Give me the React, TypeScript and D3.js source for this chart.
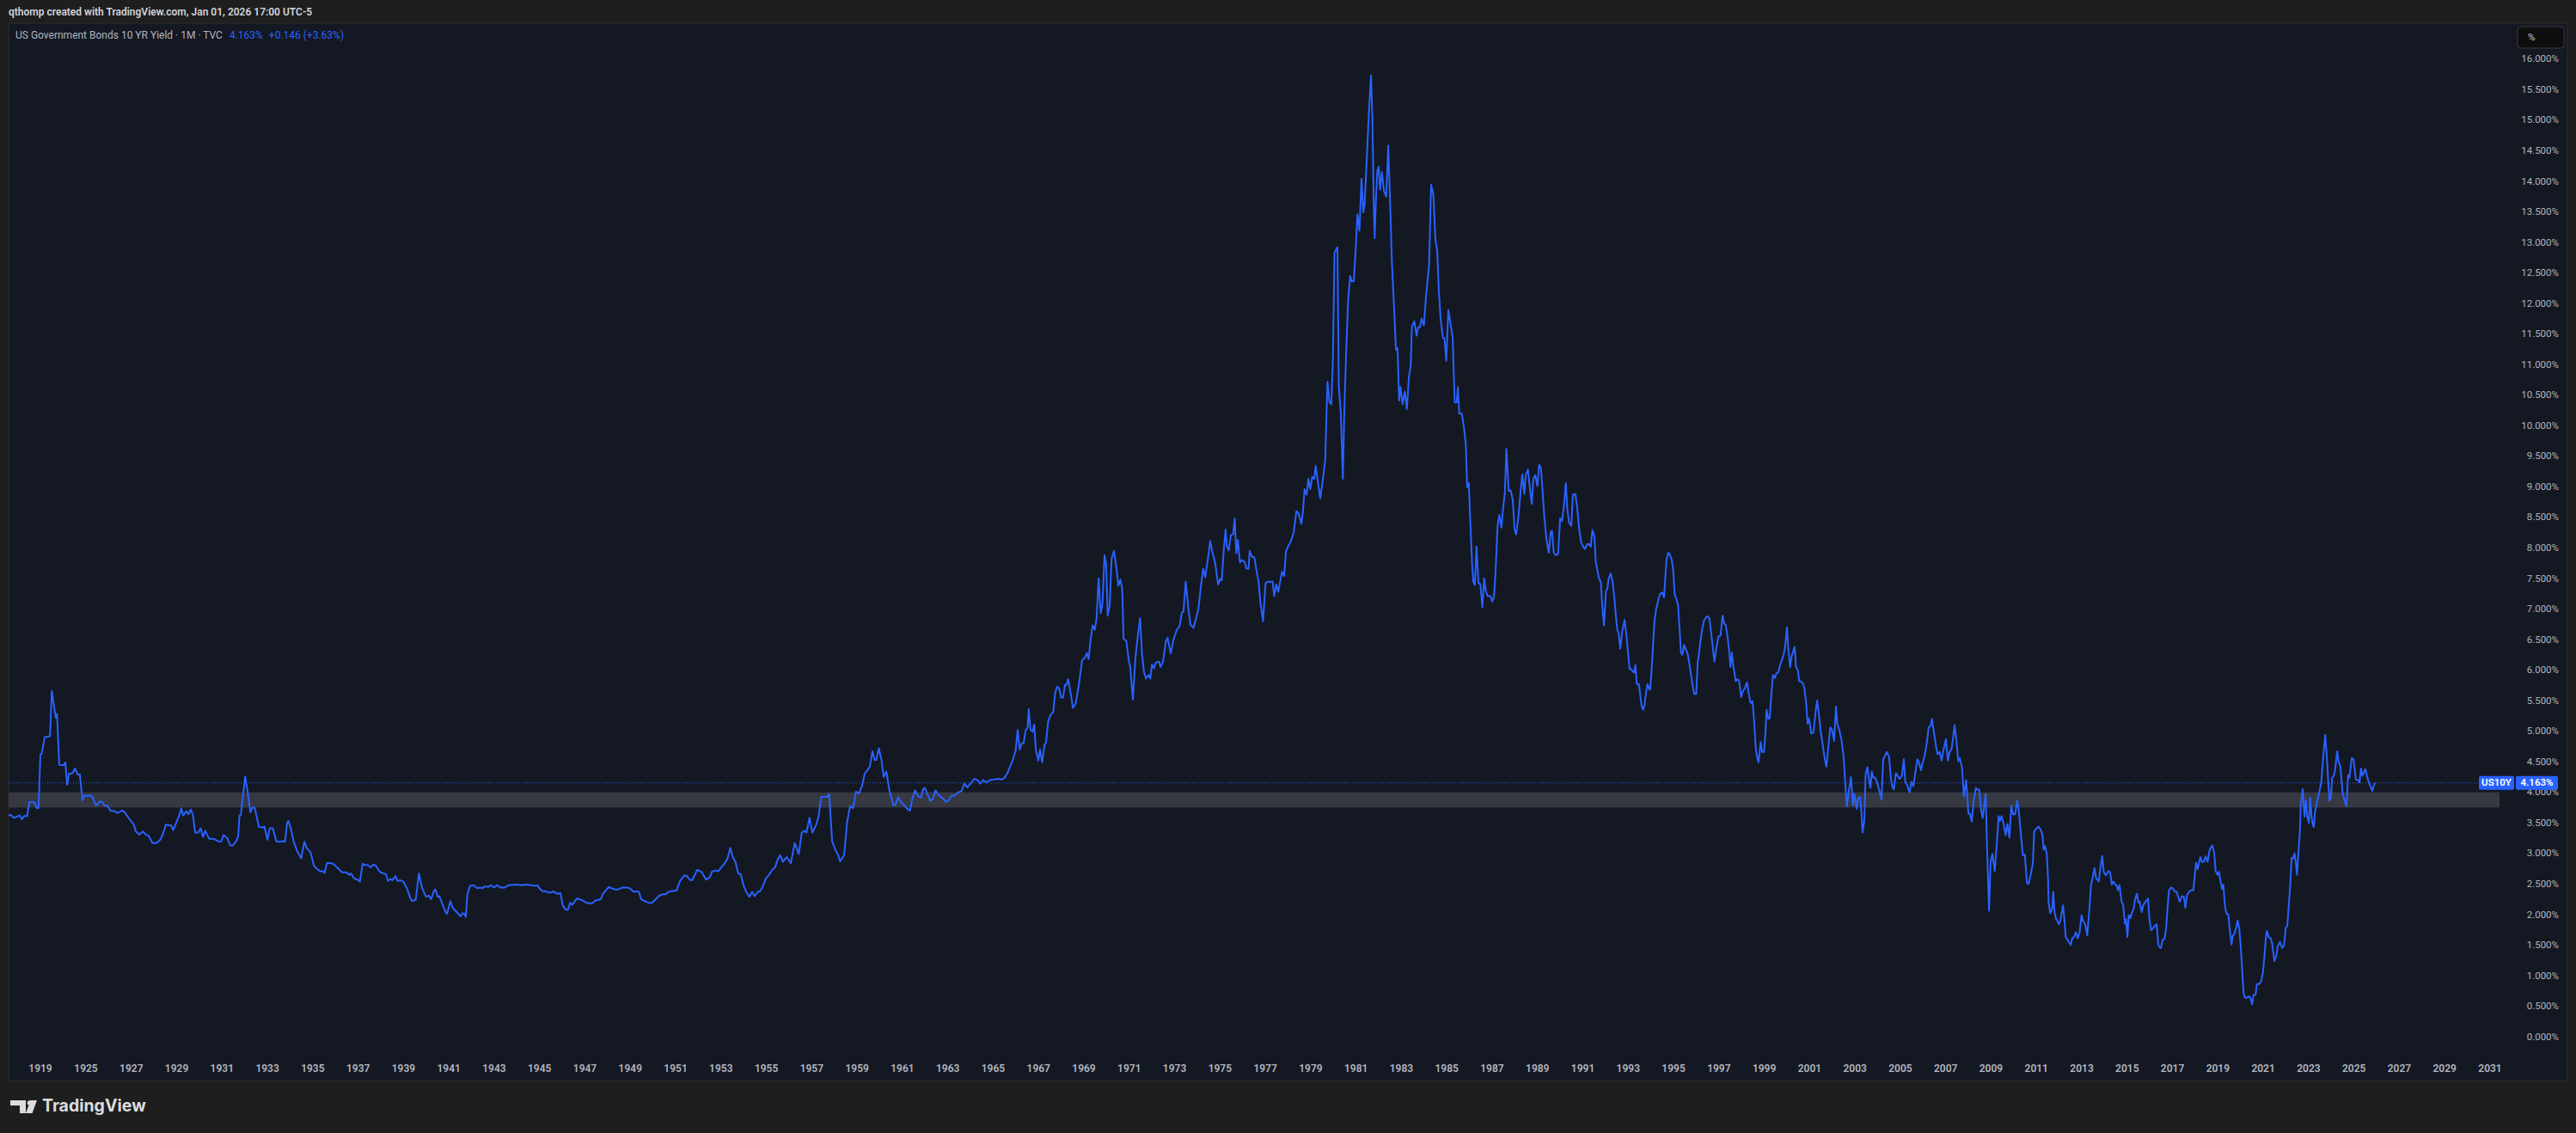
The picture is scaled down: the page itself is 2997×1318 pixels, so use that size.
import * as d3 from "d3";

// US 10Y yield, monthly-ish readings [decimal year, yield %]
const yields1914to1925: [number, number][] = [
  [1914.83, 3.63], [1915.12, 3.64], [1915.53, 3.59], [1916.28, 3.63], [1916.57, 3.57], [1916.86, 3.62],
  [1917.26, 3.62], [1917.55, 3.85], [1918.19, 3.85], [1918.53, 3.75], [1918.76, 3.75], [1919.0, 4.63],
  [1919.17, 4.64], [1919.57, 4.91], [1919.92, 4.92], [1920.27, 4.93], [1920.5, 5.67], [1921.02, 5.23],
  [1921.19, 5.29], [1921.48, 4.46], [1922.06, 4.45], [1922.29, 4.5], [1922.52, 4.13], [1922.75, 4.31],
  [1923.21, 4.32], [1923.56, 4.4], [1923.91, 4.3], [1924.2, 4.3], [1924.54, 3.88], [1924.83, 3.96],
];

const yields1925to1950: [number, number][] = [
  [1925.08, 3.95], [1925.19, 3.96], [1925.31, 3.92], [1925.44, 3.79], [1925.62, 3.86], [1925.72, 3.85],
  [1925.81, 3.79], [1925.95, 3.79], [1926.08, 3.71], [1926.28, 3.7], [1926.39, 3.67], [1926.59, 3.71],
  [1926.72, 3.68], [1926.88, 3.59], [1927.11, 3.48], [1927.2, 3.37], [1927.36, 3.32], [1927.51, 3.37],
  [1927.63, 3.32], [1927.75, 3.3], [1927.94, 3.18], [1928.13, 3.18], [1928.27, 3.23], [1928.4, 3.33],
  [1928.52, 3.48], [1928.63, 3.47], [1928.75, 3.47], [1928.85, 3.39], [1928.98, 3.51], [1929.14, 3.66],
  [1929.2, 3.75], [1929.29, 3.63], [1929.43, 3.7], [1929.52, 3.65], [1929.62, 3.73], [1929.72, 3.63],
  [1929.81, 3.35], [1929.95, 3.35], [1930.06, 3.42], [1930.16, 3.28], [1930.26, 3.38], [1930.43, 3.25],
  [1930.61, 3.25], [1930.72, 3.23], [1930.88, 3.2], [1930.97, 3.21], [1931.07, 3.31], [1931.23, 3.26],
  [1931.36, 3.14], [1931.48, 3.14], [1931.61, 3.2], [1931.71, 3.28], [1931.77, 3.63], [1931.83, 3.64],
  [1932.02, 4.27], [1932.14, 3.99], [1932.25, 3.68], [1932.33, 3.76], [1932.44, 3.76], [1932.62, 3.45],
  [1932.77, 3.43], [1932.87, 3.45], [1933.0, 3.23], [1933.1, 3.42], [1933.24, 3.42], [1933.39, 3.21],
  [1933.53, 3.2], [1933.68, 3.21], [1933.78, 3.2], [1933.87, 3.51], [1933.93, 3.54], [1934.03, 3.42],
  [1934.16, 3.2], [1934.32, 3.04], [1934.49, 2.93], [1934.63, 3.2], [1934.73, 3.1], [1934.9, 3.03],
  [1935.05, 2.81], [1935.17, 2.76], [1935.32, 2.72], [1935.48, 2.71], [1935.52, 2.69], [1935.63, 2.85],
  [1935.75, 2.85], [1935.9, 2.84], [1936.1, 2.77], [1936.29, 2.7], [1936.48, 2.7], [1936.6, 2.66],
  [1936.68, 2.68], [1936.83, 2.6], [1936.97, 2.58], [1937.08, 2.55], [1937.2, 2.84], [1937.3, 2.82],
  [1937.41, 2.82], [1937.55, 2.78], [1937.68, 2.83], [1937.8, 2.8], [1937.95, 2.71], [1938.07, 2.69],
  [1938.22, 2.67], [1938.32, 2.56], [1938.42, 2.59], [1938.51, 2.57], [1938.65, 2.64], [1938.73, 2.56],
  [1938.84, 2.57], [1938.99, 2.55], [1939.15, 2.44], [1939.29, 2.29], [1939.38, 2.23], [1939.54, 2.25],
  [1939.68, 2.68], [1939.81, 2.46], [1939.93, 2.35], [1940.0, 2.3], [1940.12, 2.32], [1940.22, 2.26],
  [1940.35, 2.4], [1940.41, 2.42], [1940.51, 2.3], [1940.58, 2.31], [1940.7, 2.2], [1940.84, 2.06],
  [1940.92, 2.02], [1941.07, 2.23], [1941.17, 2.12], [1941.32, 2.06], [1941.52, 1.98], [1941.61, 2.03],
  [1941.67, 2.03], [1941.75, 1.97], [1941.82, 2.35], [1941.94, 2.48], [1942.09, 2.49], [1942.25, 2.44],
  [1942.38, 2.45], [1942.48, 2.44], [1942.59, 2.47], [1942.73, 2.46], [1942.87, 2.49], [1943.0, 2.45],
  [1943.12, 2.49], [1943.29, 2.45], [1943.45, 2.45], [1943.64, 2.49], [1943.93, 2.5], [1944.22, 2.49],
  [1944.41, 2.5], [1944.61, 2.49], [1944.8, 2.48], [1944.9, 2.49], [1945.03, 2.42], [1945.15, 2.39],
  [1945.28, 2.39], [1945.38, 2.37], [1945.53, 2.37], [1945.61, 2.39], [1945.77, 2.35], [1945.92, 2.36],
  [1946.02, 2.16], [1946.15, 2.09], [1946.25, 2.09], [1946.35, 2.2], [1946.44, 2.17], [1946.64, 2.27],
  [1946.77, 2.26], [1946.93, 2.23], [1947.08, 2.2], [1947.22, 2.19], [1947.35, 2.2], [1947.47, 2.24],
  [1947.6, 2.25], [1947.7, 2.26], [1947.8, 2.35], [1947.89, 2.39], [1948.05, 2.46], [1948.18, 2.44],
  [1948.32, 2.42], [1948.47, 2.42], [1948.63, 2.45], [1948.76, 2.45], [1948.9, 2.45], [1949.01, 2.43],
  [1949.15, 2.38], [1949.28, 2.39], [1949.38, 2.38], [1949.48, 2.26], [1949.63, 2.23], [1949.83, 2.2],
  [1949.96, 2.2], [1950.12, 2.26], [1950.25, 2.31], [1950.41, 2.34], [1950.56, 2.34], [1950.64, 2.37],
];

const yields1950to1978: [number, number][] = [
  [1950.77, 2.39], [1951.03, 2.4], [1951.2, 2.56], [1951.38, 2.65], [1951.5, 2.64], [1951.61, 2.58],
  [1951.73, 2.57], [1951.95, 2.74], [1952.16, 2.7], [1952.34, 2.58], [1952.51, 2.62], [1952.6, 2.71],
  [1952.77, 2.73], [1952.89, 2.72], [1953.03, 2.79], [1953.17, 2.85], [1953.29, 2.93], [1953.41, 3.1],
  [1953.52, 2.95], [1953.64, 2.87], [1953.76, 2.68], [1953.87, 2.67], [1953.99, 2.49], [1954.11, 2.38],
  [1954.25, 2.3], [1954.37, 2.38], [1954.48, 2.31], [1954.6, 2.37], [1954.74, 2.4], [1954.88, 2.5],
  [1954.98, 2.6], [1955.12, 2.66], [1955.26, 2.74], [1955.38, 2.78], [1955.5, 2.91], [1955.61, 2.98],
  [1955.73, 2.87], [1955.9, 2.95], [1956.08, 2.85], [1956.25, 3.18], [1956.43, 3.0], [1956.56, 3.35],
  [1956.69, 3.38], [1956.77, 3.35], [1956.9, 3.59], [1957.03, 3.35], [1957.21, 3.49], [1957.3, 3.61],
  [1957.42, 3.93], [1957.56, 3.94], [1957.68, 3.93], [1957.77, 3.98], [1957.9, 3.21], [1958.04, 3.07],
  [1958.17, 2.98], [1958.25, 2.88], [1958.43, 2.98], [1958.56, 3.52], [1958.69, 3.78], [1958.83, 3.75],
  [1958.95, 4.02], [1959.09, 3.99], [1959.23, 4.13], [1959.33, 4.31], [1959.47, 4.38], [1959.56, 4.43],
  [1959.68, 4.68], [1959.77, 4.54], [1959.85, 4.54], [1959.96, 4.73], [1960.08, 4.53], [1960.17, 4.26],
  [1960.29, 4.35], [1960.43, 4.03], [1960.6, 3.8], [1960.69, 3.8], [1960.81, 3.93], [1960.95, 3.84],
  [1961.09, 3.79], [1961.21, 3.74], [1961.33, 3.71], [1961.42, 3.88], [1961.56, 4.04], [1961.7, 3.94],
  [1961.82, 3.92], [1961.91, 4.06], [1961.99, 4.08], [1962.11, 3.97], [1962.22, 3.87], [1962.34, 3.9],
  [1962.46, 4.04], [1962.6, 3.96], [1962.78, 3.91], [1962.92, 3.85], [1963.04, 3.88], [1963.16, 3.95],
  [1963.3, 3.96], [1963.47, 4.01], [1963.61, 4.03], [1963.73, 4.15], [1963.86, 4.09], [1964.0, 4.15],
  [1964.17, 4.23], [1964.31, 4.21], [1964.43, 4.15], [1964.55, 4.21], [1964.69, 4.17], [1964.86, 4.21],
  [1965.04, 4.22], [1965.21, 4.23], [1965.39, 4.22], [1965.53, 4.26], [1965.65, 4.34], [1965.77, 4.45],
  [1965.87, 4.54], [1965.99, 4.69], [1966.08, 5.03], [1966.17, 4.71], [1966.26, 4.81], [1966.34, 4.81],
  [1966.43, 5.02], [1966.52, 5.07], [1966.57, 5.37], [1966.64, 5.04], [1966.74, 5.0], [1966.81, 5.12],
  [1966.88, 4.71], [1966.99, 4.53], [1967.07, 4.71], [1967.16, 4.5], [1967.27, 4.79], [1967.33, 4.82],
  [1967.42, 5.16], [1967.47, 5.22], [1967.56, 5.29], [1967.65, 5.32], [1967.73, 5.63], [1967.82, 5.74],
  [1967.91, 5.71], [1968.0, 5.56], [1968.08, 5.56], [1968.17, 5.77], [1968.24, 5.77], [1968.31, 5.86],
  [1968.43, 5.6], [1968.52, 5.39], [1968.64, 5.46], [1968.78, 5.77], [1968.92, 6.17], [1969.04, 6.21],
  [1969.13, 6.29], [1969.21, 6.19], [1969.3, 6.52], [1969.39, 6.74], [1969.48, 6.67], [1969.56, 6.85],
  [1969.65, 7.51], [1969.74, 6.94], [1969.82, 7.1], [1969.91, 7.89], [1969.98, 7.74], [1970.05, 6.9],
  [1970.14, 7.07], [1970.22, 7.83], [1970.33, 7.96], [1970.43, 7.69], [1970.52, 7.39], [1970.61, 7.49],
  [1970.69, 7.34], [1970.75, 6.52], [1970.87, 6.49], [1970.99, 6.14], [1971.04, 6.07], [1971.16, 5.53],
  [1971.27, 6.2], [1971.39, 6.61], [1971.48, 6.86], [1971.56, 6.28], [1971.65, 5.98], [1971.74, 5.87],
  [1971.86, 5.93], [1971.93, 5.87], [1972.0, 6.1], [1972.09, 6.04], [1972.17, 6.13], [1972.31, 6.15],
  [1972.38, 6.06], [1972.49, 6.15], [1972.61, 6.47], [1972.69, 6.54], [1972.83, 6.28], [1972.96, 6.52],
  [1973.09, 6.66], [1973.22, 6.73], [1973.32, 6.95], [1973.39, 6.96], [1973.49, 7.46], [1973.6, 7.03],
  [1973.7, 6.75], [1973.83, 6.7], [1973.97, 6.89], [1974.05, 7.01], [1974.17, 7.41], [1974.26, 7.67],
  [1974.35, 7.53], [1974.47, 7.83], [1974.57, 8.12], [1974.69, 7.9], [1974.78, 7.78], [1974.92, 7.41],
  [1975.01, 7.5], [1975.08, 7.48], [1975.17, 7.99], [1975.25, 8.31], [1975.3, 8.04], [1975.39, 7.97],
  [1975.48, 8.22], [1975.58, 8.23], [1975.65, 8.49], [1975.72, 7.92], [1975.79, 8.14], [1975.88, 7.77],
  [1975.97, 7.81], [1976.09, 7.78], [1976.17, 7.67], [1976.26, 7.67], [1976.31, 7.96], [1976.4, 7.87],
  [1976.52, 7.85], [1976.61, 7.64], [1976.7, 7.46], [1976.78, 7.13], [1976.9, 6.81], [1977.01, 7.43],
  [1977.1, 7.46], [1977.22, 7.45], [1977.32, 7.46], [1977.39, 7.22], [1977.48, 7.41], [1977.57, 7.29],
  [1977.65, 7.45], [1977.74, 7.62], [1977.83, 7.55], [1977.91, 7.95], [1978.0, 8.03],
];

const yields1978to1991: [number, number][] = [
  [1978.12, 8.11], [1978.25, 8.26], [1978.37, 8.61], [1978.46, 8.58], [1978.59, 8.4], [1978.66, 8.61],
  [1978.73, 8.97], [1978.82, 8.88], [1978.9, 9.14], [1978.98, 8.97], [1979.07, 9.17], [1979.16, 9.14],
  [1979.22, 9.35], [1979.32, 9.08], [1979.42, 8.82], [1979.51, 9.05], [1979.64, 9.44], [1979.74, 10.73],
  [1979.83, 10.39], [1979.91, 10.36], [1979.98, 11.1], [1980.05, 12.84], [1980.18, 12.93], [1980.24, 10.65],
  [1980.33, 10.21], [1980.42, 9.14], [1980.48, 10.21], [1980.56, 11.16], [1980.65, 12.05], [1980.74, 12.46],
  [1980.81, 12.37], [1980.9, 12.37], [1980.99, 12.93], [1981.06, 13.47], [1981.15, 13.2], [1981.24, 14.05],
  [1981.32, 13.5], [1981.38, 13.64], [1981.47, 14.35], [1981.56, 15.09], [1981.66, 15.74], [1981.72, 15.06],
  [1981.78, 13.64], [1981.82, 13.08], [1981.87, 13.64], [1981.94, 14.18], [1982.0, 14.25], [1982.06, 13.87],
  [1982.14, 14.16], [1982.23, 13.85], [1982.33, 13.76], [1982.42, 14.59], [1982.5, 13.7], [1982.58, 12.7],
  [1982.67, 11.99], [1982.76, 11.25], [1982.83, 11.28], [1982.9, 10.42], [1982.96, 10.64], [1983.05, 10.36],
  [1983.15, 10.57], [1983.24, 10.28], [1983.33, 10.8], [1983.41, 10.98], [1983.46, 11.63], [1983.57, 11.72],
  [1983.67, 11.48], [1983.74, 11.62], [1983.82, 11.62], [1983.89, 11.76], [1983.99, 11.65], [1984.08, 12.1],
  [1984.22, 12.64], [1984.31, 13.95], [1984.41, 13.79], [1984.5, 13.05], [1984.58, 12.87], [1984.65, 12.22],
  [1984.73, 11.75], [1984.83, 11.45], [1984.9, 11.44], [1984.98, 11.07], [1985.07, 11.9], [1985.16, 11.69],
  [1985.26, 11.45], [1985.35, 10.39], [1985.44, 10.39], [1985.49, 10.64], [1985.55, 10.21], [1985.66, 10.21],
  [1985.76, 9.97], [1985.84, 9.71], [1985.9, 9.0], [1985.97, 9.07], [1986.04, 8.43], [1986.12, 7.72],
  [1986.17, 7.46], [1986.24, 7.4], [1986.31, 8.03], [1986.4, 7.43], [1986.48, 7.42], [1986.57, 7.04],
  [1986.65, 7.51], [1986.72, 7.31], [1986.8, 7.22], [1986.93, 7.22], [1987.0, 7.13], [1987.08, 7.2],
  [1987.15, 7.6], [1987.24, 8.37], [1987.32, 8.55], [1987.41, 8.34], [1987.48, 8.64], [1987.56, 8.91],
  [1987.63, 9.63], [1987.73, 8.94], [1987.82, 8.95], [1987.91, 8.79], [1987.99, 8.31], [1988.06, 8.23],
  [1988.16, 8.52], [1988.25, 8.91], [1988.33, 9.21], [1988.42, 8.89], [1988.48, 9.2], [1988.58, 9.29],
  [1988.67, 8.97], [1988.75, 8.73], [1988.82, 9.14], [1988.9, 9.2], [1989.0, 9.02], [1989.07, 9.37],
  [1989.15, 9.32], [1989.21, 9.02], [1989.3, 8.52], [1989.4, 8.14], [1989.5, 7.93], [1989.58, 8.26],
  [1989.64, 8.29], [1989.72, 7.93], [1989.81, 7.89], [1989.91, 7.91], [1990.0, 8.49], [1990.08, 8.45],
  [1990.16, 8.67], [1990.25, 9.07], [1990.31, 8.66], [1990.39, 8.43], [1990.49, 8.37], [1990.56, 8.88],
  [1990.67, 8.89], [1990.75, 8.67], [1990.84, 8.31], [1990.92, 8.11], [1991.01, 8.03], [1991.09, 7.99],
  [1991.2, 8.07], [1991.28, 8.07], [1991.35, 8.03], [1991.42, 8.3], [1991.51, 8.2], [1991.57, 7.78],
];

const yields1991to2011: [number, number][] = [
  [1991.7, 7.53], [1991.8, 7.44], [1991.85, 7.09], [1991.93, 6.74], [1992.02, 7.31], [1992.08, 7.33],
  [1992.14, 7.51], [1992.23, 7.59], [1992.31, 7.46], [1992.39, 7.19], [1992.46, 6.89], [1992.52, 6.66],
  [1992.58, 6.62], [1992.65, 6.36], [1992.74, 6.65], [1992.84, 6.83], [1992.93, 6.55], [1992.99, 6.3],
  [1993.06, 6.03], [1993.15, 6.02], [1993.22, 5.98], [1993.27, 5.97], [1993.32, 6.09], [1993.38, 5.78],
  [1993.47, 5.78], [1993.53, 5.61], [1993.59, 5.42], [1993.66, 5.36], [1993.72, 5.44], [1993.78, 5.62],
  [1993.85, 5.78], [1993.94, 5.69], [1993.97, 5.69], [1994.04, 6.06], [1994.1, 6.45], [1994.16, 6.81],
  [1994.23, 7.0], [1994.29, 7.09], [1994.35, 7.2], [1994.42, 7.26], [1994.5, 7.28], [1994.58, 7.2],
  [1994.63, 7.49], [1994.69, 7.82], [1994.77, 7.93], [1994.83, 7.91], [1994.92, 7.81], [1994.98, 7.66],
  [1995.05, 7.24], [1995.11, 7.19], [1995.2, 7.07], [1995.26, 6.7], [1995.33, 6.29], [1995.39, 6.26],
  [1995.46, 6.42], [1995.55, 6.34], [1995.62, 6.28], [1995.69, 6.13], [1995.77, 5.93], [1995.84, 5.76],
  [1995.91, 5.62], [1996.0, 5.62], [1996.06, 6.12], [1996.12, 6.28], [1996.18, 6.46], [1996.25, 6.65],
  [1996.34, 6.82], [1996.4, 6.85], [1996.48, 6.89], [1996.58, 6.86], [1996.65, 6.64], [1996.73, 6.38],
  [1996.8, 6.15], [1996.88, 6.35], [1996.98, 6.56], [1997.07, 6.57], [1997.16, 6.9], [1997.23, 6.77],
  [1997.3, 6.75], [1997.38, 6.55], [1997.45, 6.33], [1997.51, 6.06], [1997.57, 6.3], [1997.64, 6.07],
  [1997.74, 5.83], [1997.83, 5.86], [1997.89, 5.83], [1997.98, 5.57], [1998.04, 5.65], [1998.14, 5.71],
  [1998.24, 5.81], [1998.32, 5.61], [1998.4, 5.47], [1998.48, 5.5], [1998.55, 5.19], [1998.62, 4.75],
  [1998.69, 4.57], [1998.75, 4.5], [1998.84, 4.83], [1998.9, 4.67], [1998.99, 4.67], [1999.05, 4.97],
  [1999.1, 5.36], [1999.18, 5.21], [1999.24, 5.22], [1999.3, 5.56], [1999.38, 5.93], [1999.47, 5.88],
  [1999.54, 5.96], [1999.63, 5.98], [1999.7, 6.1], [1999.76, 6.15], [1999.85, 6.26], [1999.91, 6.36],
  [2000.0, 6.71], [2000.06, 6.35], [2000.14, 6.06], [2000.2, 6.23], [2000.26, 6.3], [2000.34, 6.39],
  [2000.4, 6.06], [2000.48, 6.01], [2000.54, 5.83], [2000.63, 5.82], [2000.71, 5.79], [2000.77, 5.71],
  [2000.85, 5.46], [2000.91, 5.13], [2000.96, 5.22], [2001.01, 5.14], [2001.07, 4.97], [2001.17, 4.99],
  [2001.26, 5.32], [2001.33, 5.51], [2001.4, 5.32], [2001.48, 5.02], [2001.55, 4.85], [2001.62, 4.67],
  [2001.68, 4.53], [2001.74, 4.43], [2001.83, 4.77], [2001.91, 5.07], [2001.99, 5.03], [2002.08, 4.85],
  [2002.16, 5.41], [2002.22, 5.13], [2002.31, 5.03], [2002.41, 4.85], [2002.5, 4.58], [2002.56, 4.21],
  [2002.64, 3.78], [2002.72, 4.01], [2002.82, 4.26], [2002.91, 3.8], [2002.97, 3.98], [2003.02, 3.88],
  [2003.07, 3.74], [2003.15, 3.93], [2003.23, 3.92], [2003.3, 3.59], [2003.33, 3.35], [2003.41, 3.54],
  [2003.47, 4.32], [2003.55, 4.42], [2003.61, 4.24], [2003.68, 4.08], [2003.74, 4.35], [2003.8, 4.25],
  [2003.89, 4.25], [2003.98, 4.16], [2004.08, 4.03], [2004.17, 3.89], [2004.24, 4.55], [2004.31, 4.59],
  [2004.4, 4.67], [2004.5, 4.59], [2004.59, 4.21], [2004.65, 4.09], [2004.71, 4.06], [2004.8, 4.32],
  [2004.88, 4.28], [2004.96, 4.23], [2005.07, 4.28], [2005.15, 4.55], [2005.22, 4.18], [2005.31, 4.12],
  [2005.41, 4.01], [2005.49, 4.18], [2005.57, 4.11], [2005.66, 4.33], [2005.75, 4.55], [2005.82, 4.5],
  [2005.91, 4.37], [2005.97, 4.48], [2006.06, 4.59], [2006.14, 4.75], [2006.2, 4.92], [2006.25, 5.08],
  [2006.33, 5.09], [2006.39, 5.21], [2006.48, 4.99], [2006.57, 4.77], [2006.64, 4.63], [2006.73, 4.67],
  [2006.82, 4.53], [2006.9, 4.7], [2007.01, 4.88], [2007.09, 4.53], [2007.17, 4.67], [2007.26, 4.72],
  [2007.33, 4.91], [2007.39, 5.11], [2007.47, 4.87], [2007.55, 4.52], [2007.62, 4.57], [2007.72, 4.41],
  [2007.8, 3.94], [2007.9, 4.21], [2008.0, 3.66], [2008.07, 3.66], [2008.15, 3.53], [2008.23, 3.87],
  [2008.33, 4.08], [2008.42, 4.05], [2008.48, 4.05], [2008.55, 3.75], [2008.63, 3.59], [2008.69, 3.78],
  [2008.76, 3.98], [2008.83, 3.0], [2008.91, 2.07], [2008.98, 2.88], [2009.06, 3.0], [2009.16, 2.72],
  [2009.24, 3.1], [2009.33, 3.62], [2009.39, 3.54], [2009.46, 3.62], [2009.54, 3.52], [2009.64, 3.31],
  [2009.72, 3.49], [2009.81, 3.27], [2009.89, 3.79], [2009.97, 3.65], [2010.06, 3.65], [2010.15, 3.87],
  [2010.21, 3.75], [2010.3, 3.38], [2010.4, 2.98], [2010.49, 2.99], [2010.58, 2.53], [2010.65, 2.51],
  [2010.74, 2.65], [2010.84, 2.84], [2010.9, 3.37], [2010.98, 3.41], [2011.09, 3.45], [2011.18, 3.4],
  [2011.26, 3.32], [2011.32, 3.07], [2011.38, 3.13],
];

const yields2011to2025: [number, number][] = [
  [2011.46, 2.99], [2011.51, 2.6], [2011.54, 2.2], [2011.61, 2.03], [2011.69, 2.1],
  [2011.74, 2.38], [2011.8, 2.05], [2011.86, 1.94], [2011.92, 1.91], [2011.98, 1.85], [2012.04, 1.89],
  [2012.1, 2.01], [2012.17, 2.16], [2012.23, 1.94], [2012.29, 1.64], [2012.38, 1.59], [2012.51, 1.51],
  [2012.58, 1.62], [2012.67, 1.65], [2012.74, 1.72], [2012.82, 1.62], [2012.9, 1.71], [2012.99, 2.0],
  [2013.05, 1.91], [2013.15, 1.85], [2013.24, 1.67], [2013.33, 2.08], [2013.41, 2.5], [2013.49, 2.63],
  [2013.56, 2.77], [2013.63, 2.6], [2013.75, 2.55], [2013.81, 2.75], [2013.9, 2.97], [2013.97, 2.7],
  [2014.06, 2.65], [2014.16, 2.72], [2014.25, 2.7], [2014.32, 2.5], [2014.4, 2.55], [2014.47, 2.5],
  [2014.53, 2.49], [2014.59, 2.41], [2014.66, 2.49], [2014.76, 2.21], [2014.82, 2.18], [2014.9, 1.86],
  [2014.95, 1.93], [2015.01, 1.64], [2015.07, 2.0], [2015.14, 1.95], [2015.2, 2.03], [2015.29, 2.11],
  [2015.35, 2.26], [2015.43, 2.35], [2015.49, 2.21], [2015.55, 2.22], [2015.64, 2.05], [2015.71, 2.16],
  [2015.81, 2.22], [2015.92, 2.27], [2015.98, 1.94], [2016.06, 1.75], [2016.15, 1.79], [2016.21, 1.82],
  [2016.3, 1.85], [2016.37, 1.52], [2016.44, 1.47], [2016.49, 1.46], [2016.56, 1.59], [2016.65, 1.61],
  [2016.72, 1.79], [2016.78, 2.11], [2016.84, 2.4], [2016.93, 2.45], [2017.01, 2.44], [2017.09, 2.39],
  [2017.18, 2.38], [2017.25, 2.3], [2017.32, 2.22], [2017.41, 2.31], [2017.5, 2.3], [2017.57, 2.12],
  [2017.64, 2.33], [2017.73, 2.38], [2017.83, 2.41], [2017.92, 2.41], [2017.98, 2.65], [2018.04, 2.86],
  [2018.11, 2.75], [2018.17, 2.87], [2018.23, 2.95], [2018.29, 2.87], [2018.38, 2.87], [2018.46, 2.96],
  [2018.55, 2.87], [2018.61, 3.02], [2018.67, 3.1], [2018.76, 3.14], [2018.84, 3.01], [2018.9, 2.72],
  [2018.99, 2.66], [2019.05, 2.71], [2019.12, 2.55], [2019.18, 2.43], [2019.24, 2.5], [2019.31, 2.16],
  [2019.37, 2.03], [2019.46, 2.01], [2019.53, 1.74], [2019.6, 1.52], [2019.66, 1.66], [2019.72, 1.69],
  [2019.81, 1.8], [2019.87, 1.91], [2019.94, 1.79], [2020.0, 1.52], [2020.06, 1.17], [2020.13, 0.73],
  [2020.19, 0.65], [2020.28, 0.65], [2020.38, 0.67], [2020.45, 0.63], [2020.51, 0.54], [2020.57, 0.69],
  [2020.66, 0.7], [2020.72, 0.87], [2020.82, 0.87], [2020.91, 0.92], [2020.99, 1.07], [2021.05, 1.32],
  [2021.11, 1.61], [2021.16, 1.74], [2021.24, 1.64], [2021.33, 1.62], [2021.39, 1.54], [2021.45, 1.37],
  [2021.49, 1.25], [2021.58, 1.34], [2021.64, 1.49], [2021.74, 1.56], [2021.83, 1.46], [2021.92, 1.51],
  [2021.99, 1.79], [2022.06, 1.82], [2022.12, 2.13], [2022.19, 2.49], [2022.25, 2.94], [2022.3, 2.92],
  [2022.38, 3.01], [2022.44, 2.85], [2022.49, 2.66], [2022.55, 3.02], [2022.62, 3.39], [2022.65, 3.79],
  [2022.74, 4.06], [2022.82, 3.61], [2022.88, 3.88], [2022.94, 3.61], [2023.01, 3.51], [2023.07, 3.92],
  [2023.13, 3.61], [2023.18, 3.49], [2023.23, 3.44], [2023.28, 3.69], [2023.37, 3.85], [2023.47, 4.01],
  [2023.56, 4.18], [2023.64, 4.57], [2023.73, 4.95], [2023.79, 4.67], [2023.85, 4.28], [2023.92, 3.87],
  [2023.98, 3.91], [2024.04, 4.25], [2024.11, 4.28], [2024.17, 4.38], [2024.26, 4.68], [2024.32, 4.52],
  [2024.4, 4.43], [2024.46, 4.18], [2024.51, 3.97], [2024.6, 3.86], [2024.67, 3.78], [2024.74, 4.29],
  [2024.8, 4.25], [2024.9, 4.57], [2024.98, 4.55], [2025.05, 4.33], [2025.08, 4.22], [2025.18, 4.21],
  [2025.24, 4.17], [2025.31, 4.4], [2025.37, 4.28], [2025.43, 4.32], [2025.5, 4.39], [2025.56, 4.3],
  [2025.62, 4.21], [2025.71, 4.12], [2025.81, 4.03], [2025.87, 4.12], [2025.94, 4.163],
];

const LAST_VALUE = 4.163;
const LAST_CHANGE = "+0.146 (+3.63%)";
const SYMBOL = "US10Y";
const TITLE = "US Government Bonds 10 YR Yield · 1M · TVC";
const HEADER = "qthomp created with TradingView.com, Jan 01, 2026 17:00 UTC-5";

// horizontal zone drawn by the author
const ZONE_LOW = 3.76;
const ZONE_HIGH = 4.01;

// TradingView time scale is bar-indexed: the pre-1925 stretch is compressed
const TIME_KNOTS = [1914.83, 1919, 1925, 2031];
const X_TICKS = [1919, ...d3.range(1925, 2032, 2)];
const Y_TICKS = d3.range(0, 16.001, 0.5);

const W = 2997;
const H = 1318;
const PANEL = { left: 10, top: 27, right: 2987, bottom: 1257 };
const PANE_RIGHT = 2926;

const FONT = "Roboto, 'Noto Sans', sans-serif";
const BLUE = "#2962ff";

export default function App() {
  const series = [
    ...yields1914to1925,
    ...yields1925to1950,
    ...yields1950to1978,
    ...yields1978to1991,
    ...yields1991to2011,
    ...yields2011to2025,
  ];

  const x = d3.scaleLinear().domain(TIME_KNOTS).range([10, 47, 100, 2897]);
  const y = d3.scaleLinear().domain([0, 16]).range([1206.7, 69.3]);

  const line = d3
    .line<[number, number]>()
    .x((d) => x(d[0]))
    .y((d) => y(d[1]));

  const lastY = y(LAST_VALUE);

  return (
    <svg
      width={W}
      height={H}
      style={{ position: "absolute", left: 0, top: 0, display: "block" }}
      fontFamily={FONT}
    >
      <rect width={W} height={H} fill="#1e1e1e" />

      {/* header */}
      <text x={10} y={15} dominantBaseline="middle" fill="#d1d4dc" fontSize={12} fontWeight={600}>
        {HEADER}
      </text>

      {/* chart panel */}
      <rect
        x={PANEL.left}
        y={PANEL.top}
        width={PANEL.right - PANEL.left}
        height={PANEL.bottom - PANEL.top}
        fill="#141823"
        stroke="#2a2d35"
        strokeWidth={1}
      />

      {/* zone */}
      <rect
        x={PANEL.left}
        y={y(ZONE_HIGH)}
        width={2908 - PANEL.left}
        height={y(ZONE_LOW) - y(ZONE_HIGH)}
        fill="#363942"
      />

      {/* last price line */}
      <line
        x1={PANEL.left}
        x2={2884}
        y1={lastY}
        y2={lastY}
        stroke={BLUE}
        strokeWidth={1}
        strokeDasharray="1 2"
      />

      {/* series */}
      <path d={line(series) ?? ""} fill="none" stroke={BLUE} strokeWidth={2} strokeLinejoin="round" />

      {/* legend */}
      <text x={18} y={42} dominantBaseline="middle" fontSize={12} fill="#b2b5be">
        {TITLE}
        <tspan dx={8} fill={BLUE}>{LAST_VALUE.toFixed(3)}%</tspan>
        <tspan dx={7} fill={BLUE}>{LAST_CHANGE}</tspan>
      </text>

      {/* price scale */}
      {Y_TICKS.map((t) => (
        <text
          key={t}
          x={2977}
          y={y(t)}
          textAnchor="end"
          dominantBaseline="middle"
          fontSize={11.5}
          fill="#b2b5be"
        >
          {t.toFixed(3)}%
        </text>
      ))}

      <rect x={2929} y={31} width={54} height={25} rx={4} fill="#0e0e0e" stroke="#3a3a3a" />
      <text x={2941} y={44} dominantBaseline="middle" fontSize={11.5} fill="#d1d4dc">%</text>

      {/* last value labels */}
      <rect x={2884} y={lastY - 8} width={41} height={16} rx={2} fill={BLUE} />
      <text x={2904.5} y={lastY} textAnchor="middle" dominantBaseline="middle" fontSize={11.5} fontWeight={600} fill="#ffffff">
        {SYMBOL}
      </text>
      <rect x={PANE_RIGHT + 1} y={lastY - 8} width={49} height={16} rx={2} fill={BLUE} />
      <text x={PANE_RIGHT + 25.5} y={lastY} textAnchor="middle" dominantBaseline="middle" fontSize={11.5} fontWeight={600} fill="#ffffff">
        {LAST_VALUE.toFixed(3)}%
      </text>

      {/* time scale */}
      {X_TICKS.map((t) => (
        <text
          key={t}
          x={x(t)}
          y={1244}
          textAnchor="middle"
          dominantBaseline="middle"
          fontSize={12}
          fontWeight={600}
          fill="#b2b5be"
        >
          {t}
        </text>
      ))}

      {/* TradingView logo */}
      <g fill="#dcdcdc">
        <path d="M12 1280 H30 V1295 H23 V1286 H12 Z" />
        <circle cx={34.5} cy={1283} r={2.8} />
        <path d="M30 1295 L35.5 1280 H43 L37.5 1295 Z" />
      </g>
      <text x={49} y={1288} dominantBaseline="middle" fontSize={19.5} fontWeight={700} fill="#dcdcdc" fontFamily="Inter, Roboto, sans-serif">
        TradingView
      </text>
    </svg>
  );
}
